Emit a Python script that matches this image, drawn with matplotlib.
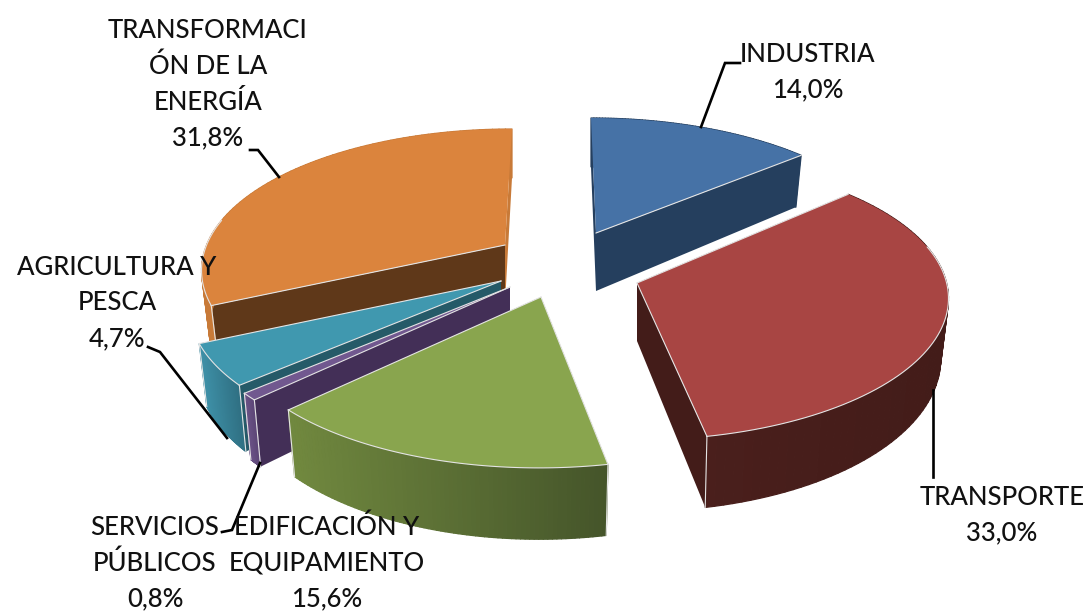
# Consumo de energia por sector - tarta 3D separada
import numpy as np
import matplotlib
matplotlib.use('Agg')
import matplotlib.pyplot as plt
from matplotlib.patches import Polygon
from matplotlib.collections import PolyCollection
from matplotlib.colors import to_rgb

# Datos
sectors = ['INDUSTRIA', 'TRANSPORTE', 'EDIFICACIÓN Y\nEQUIPAMIENTO', 'SERVICIOS\nPÚBLICOS',
           'AGRICULTURA Y\nPESCA', 'TRANSFORMACI\nÓN DE LA\nENERGÍA']
values = [14.0, 33.0, 15.6, 0.8, 4.7, 31.8]
value_labels = ['14,0%', '33,0%', '15,6%', '0,8%', '4,7%', '31,8%']

# Colores
top_colors = ['#4672A6', '#A84543', '#89A54E', '#71588F', '#4098AF', '#DB843D']
wall_colors = ['#253F5E', '#431C19', '#6A7F3A', '#432F57', '#255A68', '#5F3819']
rim_left = ['#253F5E', '#4A1F1C', '#71893F', '#6A5286', '#3E90A7', '#C87A38']
rim_right = ['#253F5E', '#431C19', '#45552A', '#5A4474', '#2F6F82', '#C87A38']

# Vertice de cada porcion y centro de su arco (pixeles)
apex = [(596, 233), (637, 283), (541, 297), (510, 287), (501, 281), (505, 245)]
arc_center = [(591, 233), (638, 272), (539, 300), (505, 290), (500, 282), (512, 244)]
draw_order = [5, 0, 4, 3, 1, 2]

# Posicion de las etiquetas y lineas guia
label_pos = [(808, 72), (1002, 515), (327, 563), (155, 563), (117, 303), (208, 84)]
leaders = [
    [(701, 127), (725, 63), (740, 63)],
    [(933, 390), (933, 477)],
    None,
    [(260, 463), (232, 530), (222, 532)],
    [(227, 438), (160, 352), (148, 347)],
    [(279, 177), (258, 150), (250, 150)],
]

RX, RY, K, H = 305, 136.5, 0.187, 58


def project(center, theta, r=1.0, z=0.0):
    x = r * np.sin(theta)
    y = r * np.cos(theta)
    d = 1 + K * y
    sx = x * RX / d * (1 - 0.025 * z)
    sy = (-y * RY + z * H) / d
    return center[0] + sx, center[1] + sy


fig = plt.figure(figsize=(10.88, 6.15), dpi=100)
ax = fig.add_axes([0, 0, 1, 1])
ax.set_xlim(0, 1088)
ax.set_ylim(615, 0)
ax.axis('off')

angles = np.cumsum([0] + values) / sum(values) * 2 * np.pi
edge = '#E4E4E4'

for i in draw_order:
    c = apex[i]
    ac = arc_center[i]
    level = 2 + draw_order.index(i)
    t = np.linspace(angles[i], angles[i + 1], 80)
    ox, oy = project(ac, t)
    bx, by = project(ac, t, z=1)
    ax_b = project(c, 0, r=0, z=1)

    # Paredes radiales
    for a in (angles[i], angles[i + 1]):
        p0 = project(ac, a)
        p1 = project(ac, a, z=1)
        wall = rim_left[i] if np.cos(a) > 0.7 else wall_colors[i]
        ax.add_patch(Polygon([c, p0, p1, ax_b], closed=True, fc=wall, ec='none', zorder=level))

    # Borde exterior con degradado
    quads = []
    cols = []
    left, right = np.array(to_rgb(rim_left[i])), np.array(to_rgb(rim_right[i]))
    span = max(ox.max() - ox.min(), 1)
    for j in range(len(t) - 1):
        quads.append([(ox[j], oy[j]), (ox[j + 1], oy[j + 1]), (bx[j + 1], by[j + 1]), (bx[j], by[j])])
        f = (ox[j] - ox.min()) / span
        cols.append(left + (right - left) * f)
    ax.add_collection(PolyCollection(quads, facecolors=cols, edgecolors=cols, linewidths=0.9, zorder=level))

    # Cara superior
    pts = [c] + list(zip(ox, oy))
    ax.add_patch(Polygon(pts, closed=True, fc=top_colors[i], ec='none', zorder=level + 0.5))

    # Filos claros
    for a in (angles[i], angles[i + 1]):
        p0 = project(ac, a)
        if np.cos(a) < 0.7:
            ax.plot([c[0], p0[0]], [c[1], p0[1]], color=edge, lw=0.8, zorder=level + 0.6)
        if np.cos(a) < 0:
            p1 = project(ac, a, z=1)
            ax.plot([p0[0], p1[0]], [p0[1], p1[1]], color=edge, lw=0.8, zorder=level + 0.6)
    front = np.cos(t) < 0.2
    if front.any():
        ax.plot(ox[front], oy[front], color=edge, lw=0.8, zorder=level + 0.6)

# Lineas guia y etiquetas
for i in range(len(sectors)):
    if leaders[i] is not None:
        ax.plot([p[0] for p in leaders[i]], [p[1] for p in leaders[i]], color='black', lw=1.9, zorder=20,
                solid_joinstyle='miter')
    ax.text(label_pos[i][0], label_pos[i][1], sectors[i] + '\n' + value_labels[i], ha='center', va='center',
            fontsize=18.5, family='Lato', fontweight='medium', color='#111111', linespacing=1.52, zorder=30)

fig.savefig('out.png', dpi=100)
